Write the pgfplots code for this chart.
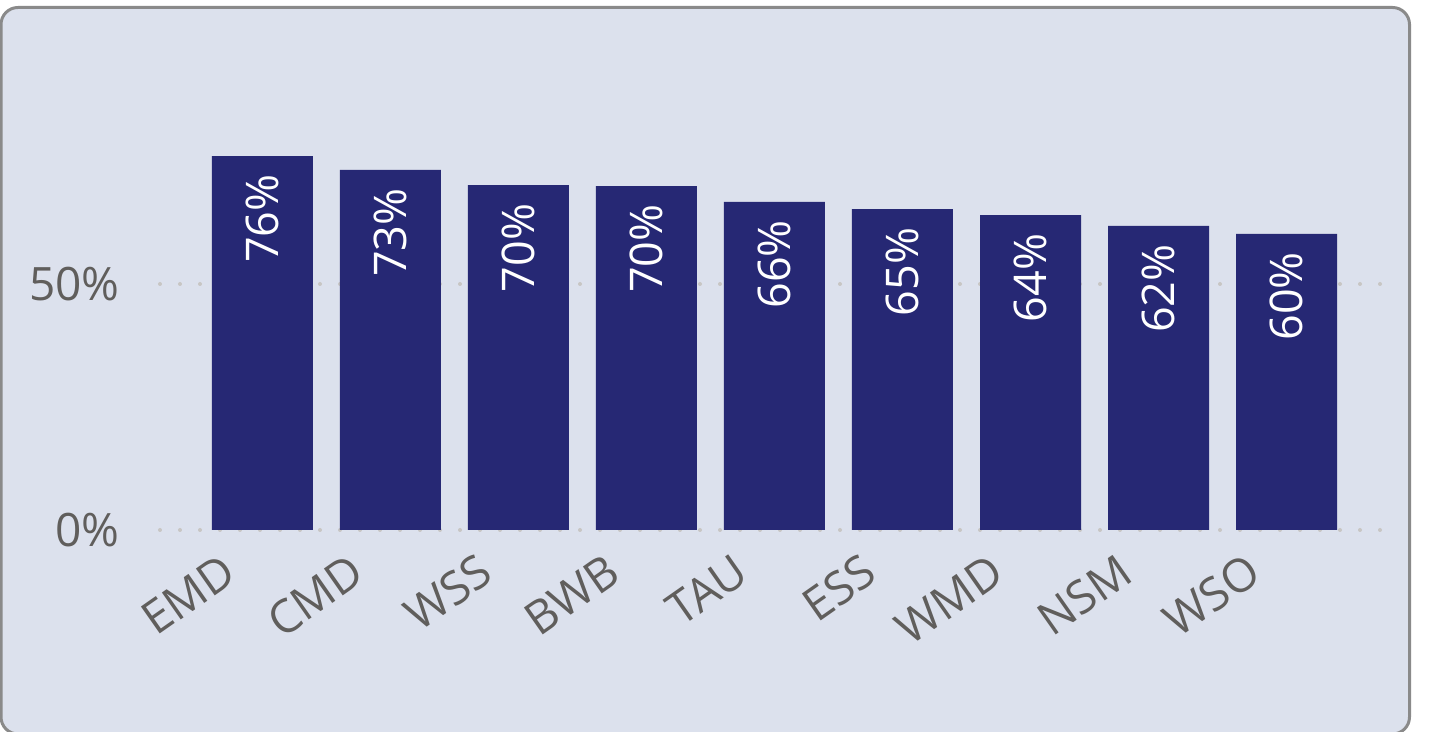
\documentclass[border=0pt]{standalone}
\usepackage{pgfplots}
\pgfplotsset{compat=1.18}
\usepackage{fontspec}
\setmainfont{Open Sans}
\definecolor{bg}{HTML}{DCE1ED}
\definecolor{barc}{HTML}{262874}
\definecolor{txt}{HTML}{605E5C}
\definecolor{grd}{HTML}{C8C6C4}
\definecolor{brd}{HTML}{8A8A8A}
\begin{document}
\begin{tikzpicture}[x=1pt,y=1pt]
\useasboundingbox (0,0) rectangle (717.5,366);
\draw[brd, line width=1.5pt, fill=bg, rounded corners=8.5pt] (0.5,-1) rectangle (704.75,362.25);
\begin{axis}[
  at={(80pt,101pt)}, anchor=south west,
  scale only axis, width=610.5pt, height=246pt,
  xmin=-0.8, xmax=8.738, ymin=0, ymax=100,
  axis line style={draw=none}, tick style={draw=none},
  ytick={0,50}, yticklabels={0\%,50\%},
  xtick={0,...,8}, xticklabels={EMD,CMD,WSS,BWB,TAU,ESS,WMD,NSM,WSO},
  ymajorgrids, grid style={grd, line width=2pt, line cap=round, dash pattern=on 0pt off 10pt},
  yticklabel style={font=\fontsize{23}{27}\selectfont, text=txt, inner sep=0pt, anchor=east, xshift=-20pt},
  xticklabel style={font=\fontsize{23}{27}\selectfont, text=txt, inner sep=0pt, xshift=-21pt, yshift=-6.5pt, rotate=35, anchor=north east},
  ybar, bar width=50.5pt,
  nodes near coords, point meta=explicit symbolic,
  every node near coord/.append style={rotate=90, anchor=east, text=white, font=\fontsize{22.5}{26}\selectfont, inner sep=9pt},
]
\addplot[fill=barc, draw=none] coordinates {
 (0,76.0)[76\%] (1,73.2)[73\%] (2,70.1)[70\%] (3,69.9)[70\%] (4,66.7)[66\%]
 (5,65.2)[65\%] (6,64.0)[64\%] (7,61.8)[62\%] (8,60.2)[60\%]};
\end{axis}
\end{tikzpicture}
\end{document}
